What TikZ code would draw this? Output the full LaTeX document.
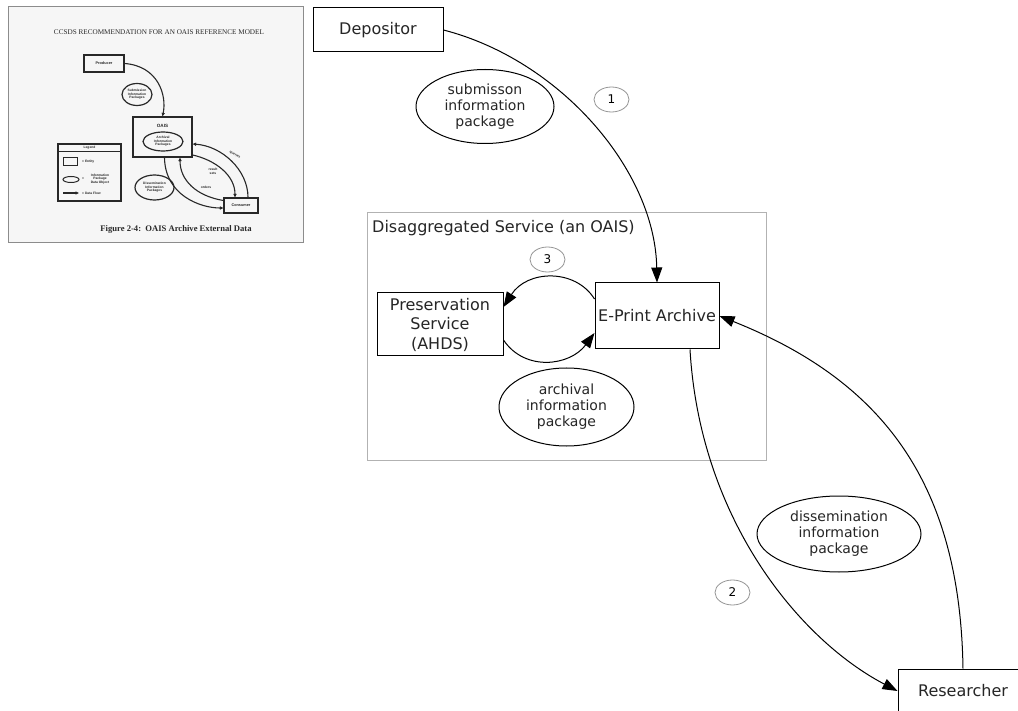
\documentclass[tikz,border=0pt]{standalone}
\usepackage{fontspec}
\setmainfont{DejaVu Sans}
\newfontfamily\thumbserif{Liberation Serif}
\newfontfamily\thumbsans{Liberation Sans}
\usetikzlibrary{arrows.meta,shapes.geometric,calc}
\definecolor{clustergrey}{RGB}{178,178,178}
\definecolor{badgegrey}{RGB}{150,150,150}
\definecolor{thumbink}{RGB}{40,40,40}
\definecolor{thumbpaper}{RGB}{246,246,246}
\definecolor{thumbframe}{RGB}{140,140,140}
\tikzset{
  entity/.style={draw, line width=1pt, rectangle, inner sep=0pt, align=center,
    text=black!85, font=\fontsize{16}{19.5}\selectfont},
  package/.style={draw, ellipse, line width=1pt, inner sep=0pt, align=center,
    text=black!85, font=\fontsize{14}{16}\selectfont},
  badge/.style={draw=badgegrey, ellipse, line width=0.8pt, inner sep=0pt,
    minimum width=35, minimum height=25, font=\fontsize{12}{14}\selectfont},
  flow/.style={line width=1pt, -{Triangle[length=15pt,width=11pt]}},
  % small reproduction of the OAIS reference figure
  tentity/.style={draw=thumbink, line width=1.2pt, rectangle, inner sep=0pt, align=center,
    text=thumbink, font=\thumbsans\bfseries\fontsize{3.8}{4.2}\selectfont},
  tpkg/.style={draw=thumbink, ellipse, line width=1.2pt, inner sep=0pt, align=center,
    text=thumbink, font=\thumbsans\bfseries\fontsize{3.3}{3.6}\selectfont},
  tlabel/.style={inner sep=0pt, align=center, text=thumbink,
    font=\thumbsans\bfseries\fontsize{3.3}{3.7}\selectfont},
  tflow/.style={draw=thumbink, line width=1.1pt, -{Triangle[length=3.5pt,width=3.2pt]}},
}
\begin{document}
\begin{tikzpicture}[x=1pt,y=-1pt]
\useasboundingbox (0,0) rectangle (1018,711);
\fill[white] (0,0) rectangle (1018,711);
\clip (0,0) rectangle (1018,711);

% ---------- OAIS reference figure (inset) ----------
\draw[thumbframe, fill=thumbpaper, line width=1pt] (8,7) rectangle (303,243);
\node[inner sep=0pt, text=thumbink, font=\thumbserif\fontsize{7.2}{8}\selectfont] (ttitle) at (159,32)
  {CCSDS RECOMMENDATION FOR AN OAIS REFERENCE MODEL};
\node[tentity, minimum width=40, minimum height=17] (prod) at (104,63.5) {Producer};
\node[tpkg, minimum width=30, minimum height=22] (tsip) at (137,94.5) {Submission\\Information\\Packages};
\node[tentity, minimum width=59, minimum height=40] (oais) at (162.5,137) {};
\node[tlabel, font=\thumbsans\bfseries\fontsize{4.6}{5}\selectfont] (oaisname) at (162.5,126) {OAIS};
\node[tpkg, minimum width=40, minimum height=19] (taip) at (163,141.5) {Archival\\Information\\Packages};
\node[tpkg, minimum width=39, minimum height=25] (tdip) at (154.5,187.5) {Dissemination\\Information\\Packages};
\node[tentity, minimum width=34, minimum height=15] (cons) at (241,205.5) {Consumer};

\node[tentity, minimum width=63, minimum height=57] (legend) at (89.5,172.5) {};
\draw[thumbink, line width=1pt] (legend.west |- 0,152) -- (legend.east |- 0,152);
\node[tlabel] (legendname) at (89.5,148) {Legend};
\draw[thumbink, line width=1pt] (63.5,158) rectangle (77.5,165.5);
\node[tlabel, anchor=west] (lentity) at (82,162) {= Entity};
\draw[thumbink, line width=1pt] (71,179.5) ellipse [x radius=8, y radius=3];
\node[tlabel, anchor=west] (leq) at (82,179) {=};
\node[tlabel] (lpkg) at (100,179) {Information\\Package\\Data Object};
\coordinate (lflowa) at (63,193);
\coordinate (lflowb) at (79,193);
\draw[tflow] (lflowa) -- (lflowb);
\node[tlabel, anchor=west] (lflow) at (82,193) {= Data Flow};

\draw[tflow] (prod.east) .. controls (158,66) and (167,95) .. (oais.north);
\draw[tflow] ($(oais.south)+(2,0)$) .. controls (165,195) and (200,208) .. ($(cons.west)+(0,2.5)$);
\draw[tflow] ($(cons.west)+(0,-5)$) .. controls (196,196) and (180,180) .. ($(oais.south)+(17.5,0)$);
\draw[tflow] ($(oais.east)+(0,18)$) .. controls (215,160) and (235,175) .. ($(cons.north)+(-6,0)$);
\draw[tflow] ($(cons.north)+(7,0)$) .. controls (248,170) and (222,146) .. ($(oais.east)+(0,7)$);
\node[tlabel] (lorders) at (206,187) {orders};
\node[tlabel] (lresult) at (213,171) {result\\sets};
\node[tlabel, rotate=-28] (lqueries) at (235,155) {queries};

\node[inner sep=0pt, text=thumbink, font=\thumbserif\bfseries\fontsize{8.6}{10}\selectfont] (tcaption) at (176,229)
  {Figure 2-4:\ \ OAIS Archive External Data};

% ---------- disaggregated service ----------
\draw[clustergrey, line width=1pt] (367,213) rectangle (766,460);
\node[anchor=base west, inner sep=0pt, text=black!85, font=\fontsize{16}{19}\selectfont] (clabel) at (372,233)
  {Disaggregated Service (an OAIS)};

\node[entity, minimum width=130, minimum height=44] (dep) at (378,30) {Depositor};
\node[entity, minimum width=124, minimum height=66] (ep) at (657,316) {E-Print Archive};
\node[entity, minimum width=126, minimum height=63] (pres) at (440,324.5) {Preservation\\Service\\(AHDS)};
\node[entity, minimum width=130, minimum height=44] (res) at (963,691) {Researcher};

\node[package, minimum width=138, minimum height=74] (sip) at (485,106.5) {submisson\\information\\package};
\node[package, minimum width=135, minimum height=78] (aip) at (566.5,407) {archival\\information\\package};
\node[package, minimum width=164, minimum height=76] (dip) at (839,534) {dissemination\\information\\package};

\node[badge] (b1) at (611.5,99.5) {1};
\node[badge] (b2) at (732.5,592.5) {2};
\node[badge] (b3) at (547.5,259.5) {3};

% ---------- flows ----------
\draw[flow] (dep.east) .. controls (560,60) and (655,170) .. (ep.north);
\draw[flow] ($(ep.south)+(33,0)$) .. controls (700,520) and (800,640) .. (res.west);
\draw[flow] (res.north) .. controls (960,480) and (880,380) .. (ep.east);
\draw[flow] ($(ep.west)+(0,-17)$) .. controls (575,268) and (527,270) .. ($(pres.east)+(0,-17.5)$);
\draw[flow] ($(pres.east)+(0,15.5)$) .. controls (525,372) and (570,366) .. ($(ep.west)+(0,17)$);
\end{tikzpicture}
\end{document}
